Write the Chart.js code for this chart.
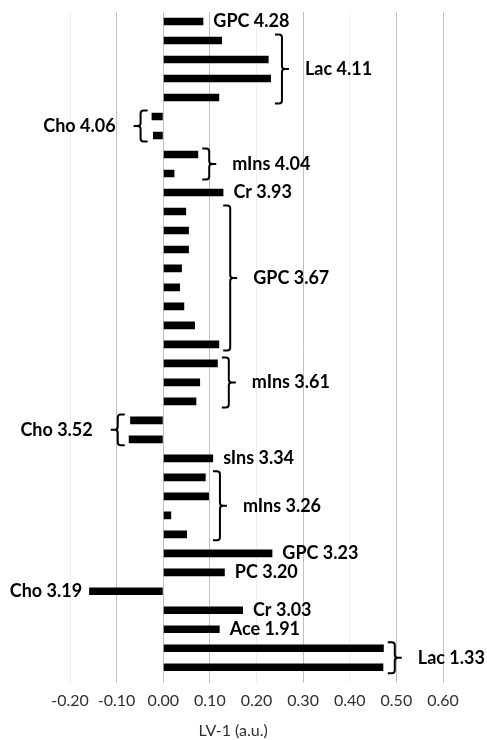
<!DOCTYPE html>
<html>
<head>
<meta charset="utf-8">
<script src="https://cdn.jsdelivr.net/npm/chart.js@4.4.1/dist/chart.umd.min.js"></script>
<style>
  body { margin: 0; background: #fff; }
  #wrap { width: 487px; height: 740px; }
</style>
</head>
<body>
<div id="wrap"><canvas id="lvChart" width="487" height="740"></canvas></div>
<script>
// one bar per spectral bin, top to bottom
const bins = [
  'GPC 4.28',
  'Lac 4.11 a', 'Lac 4.11 b', 'Lac 4.11 c', 'Lac 4.11 d',
  'Cho 4.06 a', 'Cho 4.06 b',
  'mIns 4.04 a', 'mIns 4.04 b',
  'Cr 3.93',
  'GPC 3.67 a', 'GPC 3.67 b', 'GPC 3.67 c', 'GPC 3.67 d', 'GPC 3.67 e', 'GPC 3.67 f', 'GPC 3.67 g', 'GPC 3.67 h',
  'mIns 3.61 a', 'mIns 3.61 b', 'mIns 3.61 c',
  'Cho 3.52 a', 'Cho 3.52 b',
  'sIns 3.34',
  'mIns 3.26 a', 'mIns 3.26 b', 'mIns 3.26 c', 'mIns 3.26 d',
  'GPC 3.23',
  'PC 3.20',
  'Cho 3.19',
  'Cr 3.03',
  'Ace 1.91',
  'Lac 1.33 a', 'Lac 1.33 b'
];
const lv1 = [
  0.086,
  0.126, 0.226, 0.231, 0.120,
  -0.025, -0.022,
  0.075, 0.024,
  0.129,
  0.049, 0.055, 0.055, 0.040, 0.036, 0.045, 0.068, 0.120,
  0.117, 0.079, 0.071,
  -0.071, -0.074,
  0.107,
  0.091, 0.098, 0.017, 0.051,
  0.234,
  0.132,
  -0.159,
  0.171,
  0.121,
  0.473, 0.472
];
// peak labels and how many consecutive bins each one covers
const peakLabels = ['GPC 4.28', 'Lac 4.11', 'Cho 4.06', 'mIns 4.04', 'Cr 3.93', 'GPC 3.67', 'mIns 3.61', 'Cho 3.52',
  'sIns 3.34', 'mIns 3.26', 'GPC 3.23', 'PC 3.20', 'Cho 3.19', 'Cr 3.03', 'Ace 1.91', 'Lac 1.33'];
const peakSizes = [1, 4, 2, 2, 1, 8, 3, 2, 1, 4, 1, 1, 1, 1, 1, 2];

const xMin = -0.2, xMax = 0.6, xStep = 0.1;
const labelFont = 'bold 18px Lato';

// curly bracket, dir = 1 opens to the left (points right), -1 the other way
function bracket(ctx, x, y0, y1, dir) {
  const h = 7, r = 3;
  const ym = (y0 + y1) / 2;
  ctx.beginPath();
  ctx.moveTo(x - dir * h, y0);
  ctx.arcTo(x, y0, x, y0 + r, r);
  ctx.lineTo(x, ym - r);
  ctx.arcTo(x, ym, x + dir * r, ym, r);
  ctx.lineTo(x + dir * h, ym);
  ctx.moveTo(x + dir * r, ym);
  ctx.arcTo(x, ym, x, ym + r, r);
  ctx.lineTo(x, y1 - r);
  ctx.arcTo(x, y1, x - dir * h, y1, r);
  ctx.lineTo(x - dir * h, y1);
  ctx.stroke();
}

const peakNotes = {
  id: 'peakNotes',
  afterDatasetsDraw(chart) {
    const ctx = chart.ctx;
    const xs = chart.scales.x, ys = chart.scales.y;
    ctx.save();
    ctx.fillStyle = '#000';
    ctx.strokeStyle = '#000';
    ctx.lineWidth = 2;
    ctx.lineCap = 'butt';
    ctx.font = labelFont;
    ctx.textBaseline = 'middle';
    let start = 0;
    peakLabels.forEach((lab, g) => {
      const end = start + peakSizes[g] - 1;
      const vals = lv1.slice(start, end + 1);
      const yTop = ys.getPixelForValue(start);
      const yBot = ys.getPixelForValue(end);
      const yMid = (yTop + yBot) / 2;
      const neg = vals.every(v => v < 0);
      if (!neg) {
        const edge = xs.getPixelForValue(Math.max(...vals));
        ctx.textAlign = 'left';
        if (peakSizes[g] === 1) {
          ctx.fillText(lab, edge + 10, yMid);
        } else {
          const bx = edge + 11;
          bracket(ctx, bx, yTop - 6, yBot + 6, 1);
          ctx.fillText(lab, bx + 23, yMid);
        }
      } else {
        const edge = xs.getPixelForValue(Math.min(...vals));
        ctx.textAlign = 'right';
        if (peakSizes[g] === 1) {
          ctx.fillText(lab, edge - 7, yMid);
        } else {
          const bx = edge - 11;
          bracket(ctx, bx, yTop - 6, yBot + 6, -1);
          ctx.fillText(lab, bx - 25, yMid);
        }
      }
      start = end + 1;
    });
    // axis title
    ctx.font = '16px Lato';
    ctx.fillStyle = '#303030';
    ctx.textAlign = 'center';
    ctx.fillText('LV-1 (a.u.)', xs.getPixelForValue(0.15), chart.height - 9);
    ctx.restore();
  }
};

new Chart(document.getElementById('lvChart'), {
  type: 'bar',
  data: {
    labels: bins,
    datasets: [{
      data: lv1,
      backgroundColor: '#000',
      borderWidth: 0,
      barPercentage: 0.4,
      categoryPercentage: 1
    }]
  },
  options: {
    indexAxis: 'y',
    responsive: false,
    animation: false,
    layout: { padding: { top: 12, left: 70, right: 44, bottom: 22 } },
    plugins: { legend: { display: false }, tooltip: { enabled: false } },
    scales: {
      x: {
        min: xMin,
        max: xMax,
        ticks: {
          stepSize: xStep,
          padding: 8,
          color: '#303030',
          font: { family: 'Lato', size: 16 },
          callback: v => v.toFixed(2)
        },
        grid: {
          color: c => [-2, 2, 4].includes(Math.round(c.tick.value * 10)) ? '#efefef' : '#c0c0c0',
          lineWidth: 1,
          drawTicks: true,
          tickLength: 6
        },
        border: { display: false }
      },
      y: { display: false }
    }
  },
  plugins: [peakNotes]
});
</script>
</body>
</html>
